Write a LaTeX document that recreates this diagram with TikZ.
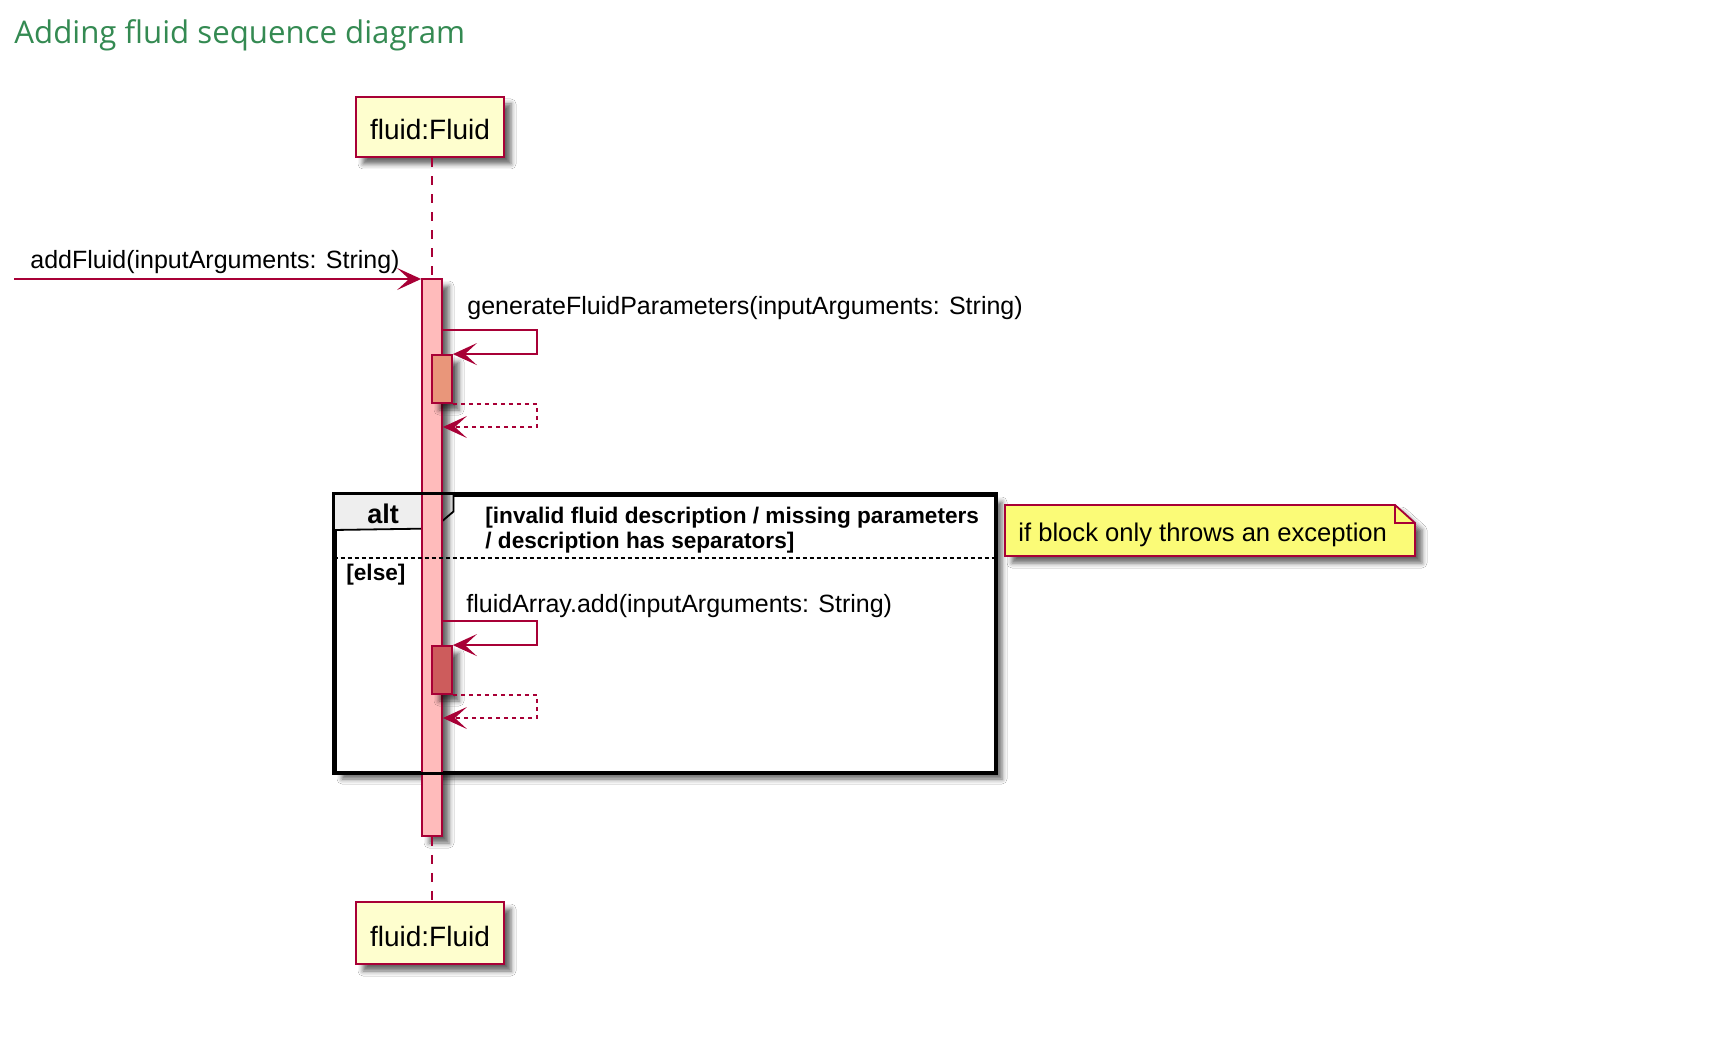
\documentclass[tikz,border=0pt]{standalone}
\usepackage{fontspec}
\setmainfont{Liberation Sans}
\newfontfamily\titlefont{Open Sans}
\usetikzlibrary{arrows.meta,shadows.blur}

\definecolor{umlred}{RGB}{168,0,54}
\definecolor{partfill}{RGB}{254,254,206}
\definecolor{barpink}{RGB}{255,187,187}
\definecolor{barsalmon}{RGB}{233,150,122}
\definecolor{barindian}{RGB}{205,92,92}
\definecolor{notefill}{RGB}{251,251,119}
\definecolor{tabgray}{RGB}{238,238,238}
\definecolor{titlegreen}{RGB}{52,138,82}

\begin{document}
\begin{tikzpicture}[
    x=0.5pt, y=-0.5pt,
    % Styles
    shadowed/.style={blur shadow={shadow xshift=3.5pt, shadow yshift=-3.5pt,
        shadow blur radius=2.5pt, shadow opacity=60}},
    participant/.style={draw=umlred, line width=1.25pt, fill=partfill,
        minimum width=74pt, inner sep=0pt, text height=13pt, text depth=0pt,
        font=\fontsize{14}{16}\selectfont, shadowed},
    actbar/.style={draw=umlred, line width=0.9pt, fill=#1,
        minimum width=10pt, inner sep=0pt, shadowed},
    msg/.style={-{Stealth[length=12pt, width=11pt, inset=6pt]}, umlred, line width=1pt},
    ret/.style={msg, line width=0.9pt, dash pattern=on 2pt off 2pt},
    lifeline/.style={umlred, line width=1pt, dash pattern=on 4.5pt off 4.5pt},
    msglabel/.style={anchor=base west, inner sep=0pt, font=\fontsize{12.5}{15}\selectfont},
    guardtext/.style={anchor=base west, inner sep=0pt, align=left,
        font=\bfseries\fontsize{11.3}{12.5}\selectfont},
    altframe/.style={draw=black, line width=1.5pt, fill=white, inner sep=0pt, shadowed},
    notebox/.style={draw=umlred, line width=0.9pt, fill=notefill, shadowed}
]
\path[use as bounding box, fill=white] (0,0) rectangle (1732,1058);

% --- Title ---
\node[anchor=base west, inner sep=0pt, text=titlegreen,
    font=\titlefont\fontsize{15.6}{18}\selectfont] (title) at (14,44) {Adding fluid sequence diagram};

% --- Participants ---
\node[participant, minimum height=30pt] (pTop) at (430,127) {fluid:Fluid};
\node[participant, minimum height=31pt] (pBot) at (430,933) {fluid:Fluid};

% --- Alt frame (background) ---
\node[altframe, minimum width=330pt, minimum height=138.5pt] (alt) at (665,633.5) {};
\filldraw[fill=tabgray, draw=black, line width=0.9pt] (alt.north west) -- ++(120,0) -- ++(0,18)
    -- ++(-20,17) -- (alt.west |- 0,530) -- cycle;

% --- Activation bars ---
\node[actbar=barpink, minimum height=278.5pt] (bar) at (432,557.5) {};
\node[actbar=barsalmon, minimum height=24pt] (subA) at (442,379) {};
\node[actbar=barindian, minimum height=24pt] (subB) at (442,670) {};

% --- Lifeline ---
\draw[lifeline] (bar.north |- pTop.south) -- (bar.north);
\draw[lifeline] (bar.south) -- (bar.south |- pBot.north);

% --- Alt frame (border, guards) ---
\draw[line width=1.5pt] (alt.north west) rectangle (alt.south east);
\draw[line width=0.6pt, dash pattern=on 2pt off 1.5pt] (alt.west |- 0,558) -- (alt.east |- 0,558);
\node[anchor=base, inner sep=0pt, font=\bfseries\fontsize{13.5}{15}\selectfont] (altLabel) at (383,523) {alt};
\node[guardtext] (guardIf) at (485,548) {[invalid fluid description / missing parameters\\/ description has separators]};
\node[guardtext] (guardElse) at (346,580) {[else]};

% --- Messages ---
\coordinate (entry) at (14,279);
\draw[msg] (entry) -- (entry -| bar.west);
\node[msglabel] (lblAdd) at (30,269) {addFluid(inputArguments: String)};

\draw[msg] (bar.east |- 0,330) -- ++(94,0) |- (subA.north east);
\draw[ret] (subA.south east) -- ++(84,0) |- (bar.east |- 0,427);
\node[msglabel] (lblGen) at (467,315) {generateFluidParameters(inputArguments: String)};

\draw[msg] (bar.east |- 0,621) -- ++(94,0) |- (subB.north east);
\draw[ret] (subB.south east) -- ++(84,0) |- (bar.east |- 0,718);
\node[msglabel] (lblArr) at (466,612) {fluidArray.add(inputArguments: String)};

% --- Note ---
\filldraw[notebox] (1005,505) -- (1395,505) -- (1415,523) -- (1415,556) -- (1005,556) -- cycle;
\draw[umlred, line width=0.9pt] (1395,505) |- (1415,523);
\node[msglabel, font=\fontsize{12.8}{15}\selectfont] (noteText) at (1018,541) {if block only throws an exception};

\end{tikzpicture}
\end{document}
